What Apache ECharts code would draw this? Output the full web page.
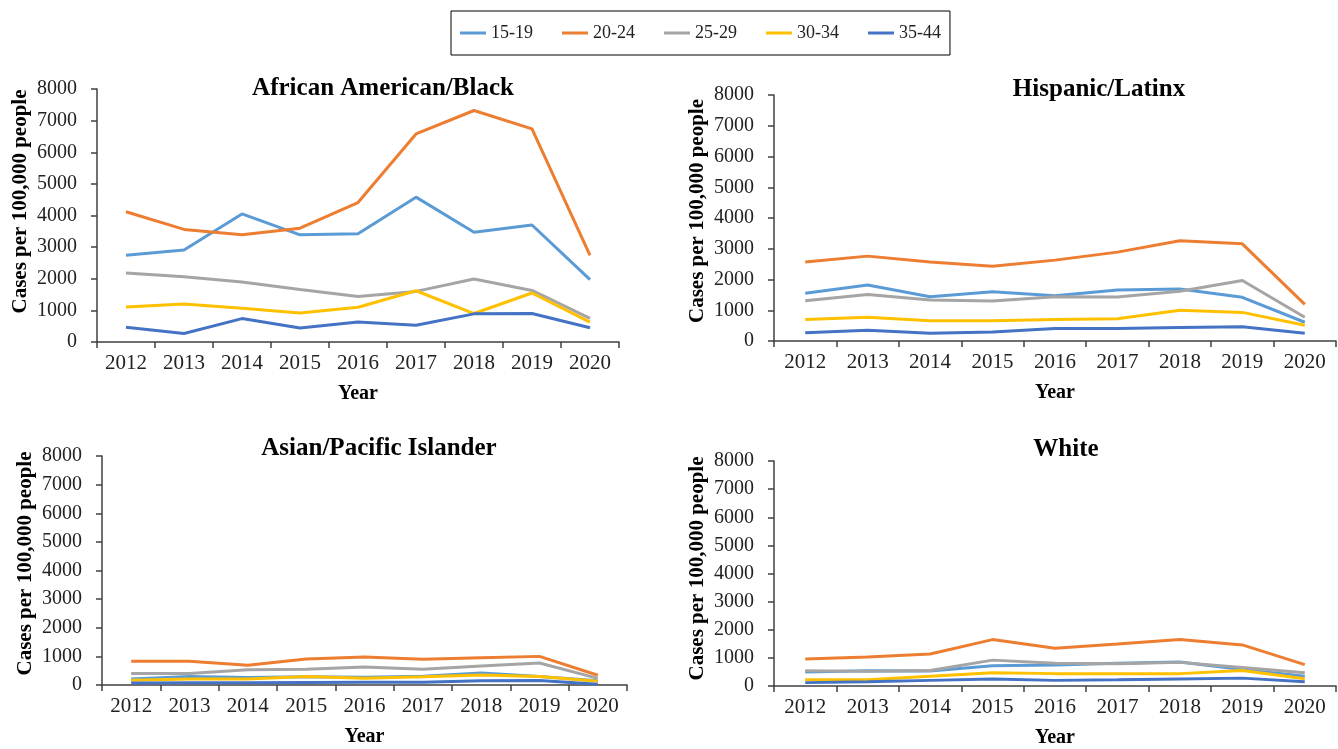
<!DOCTYPE html>
<html>
<head>
<meta charset="utf-8">
<script src="https://cdn.jsdelivr.net/npm/echarts@6/dist/echarts.min.js"></script>
<style>
  html, body { margin: 0; padding: 0; background: #fff; }
  #chart { width: 1338px; height: 749px; }
</style>
</head>
<body>
<div id="chart"></div>
<script>
// categories
var years = ["2012", "2013", "2014", "2015", "2016", "2017", "2018", "2019", "2020"];
var ageGroups = ["15-19", "20-24", "25-29", "30-34", "35-44"];
var panelTitles = ["African American/Black", "Hispanic/Latinx", "Asian/Pacific Islander", "White"];

// African American/Black
var black15 = [2740, 2910, 4050, 3390, 3420, 4580, 3470, 3700, 1970];
var black20 = [4120, 3560, 3390, 3600, 4410, 6580, 7320, 6740, 2740];
var black25 = [2180, 2060, 1900, 1660, 1440, 1600, 1990, 1630, 750];
var black30 = [1110, 1200, 1070, 920, 1100, 1620, 900, 1550, 630];
var black35 = [470, 270, 740, 440, 630, 530, 890, 900, 450];

// Hispanic/Latinx
var hisp15 = [1550, 1820, 1440, 1600, 1470, 1660, 1690, 1420, 610];
var hisp20 = [2570, 2760, 2570, 2430, 2630, 2890, 3260, 3160, 1190];
var hisp25 = [1310, 1510, 1330, 1300, 1440, 1430, 1620, 1970, 770];
var hisp30 = [700, 770, 660, 660, 700, 720, 1000, 930, 510];
var hisp35 = [270, 350, 250, 290, 410, 410, 440, 460, 250];

// Asian/Pacific Islander
var asian15 = [210, 300, 260, 290, 270, 310, 420, 300, 150];
var asian20 = [830, 830, 690, 910, 980, 900, 950, 1000, 340];
var asian25 = [400, 400, 530, 550, 630, 550, 660, 770, 230];
var asian30 = [170, 210, 210, 300, 240, 290, 350, 300, 130];
var asian35 = [70, 80, 80, 90, 100, 100, 150, 160, 30];

// White
var white15 = [500, 540, 530, 720, 750, 810, 850, 590, 350];
var white20 = [960, 1030, 1140, 1650, 1340, 1490, 1650, 1460, 760];
var white25 = [540, 520, 550, 920, 810, 790, 840, 660, 470];
var white30 = [220, 220, 350, 470, 440, 440, 440, 550, 260];
var white35 = [120, 150, 200, 250, 200, 220, 250, 280, 150];

var yTicks = [0, 1000, 2000, 3000, 4000, 5000, 6000, 7000, 8000];

var colors = ["#5B9BD5", "#ED7D31", "#A5A5A5", "#FFC000", "#4472C4"];
var panelData = [
  [black15, black20, black25, black30, black35],
  [hisp15, hisp20, hisp25, hisp30, hisp35],
  [asian15, asian20, asian25, asian30, asian35],
  [white15, white20, white25, white30, white35]
];

var serif = "'Liberation Serif', 'Times New Roman', serif";
var axisColor = "#404040";

var grids = [
  { left: 97, top: 89, width: 522, height: 253 },
  { left: 774, top: 95, width: 562, height: 246 },
  { left: 102, top: 456, width: 525, height: 229 },
  { left: 774, top: 461, width: 562, height: 226 }
];
var titlePos = [
  { left: 378, top: 71 },
  { left: 1094, top: 72 },
  { left: 374, top: 431 },
  { left: 1061, top: 432 }
];
// nudge of the rotated y-axis name upward (px)
var nameShift = [28, 14, 14, 10];

var chartDom = document.getElementById("chart");
var myChart = echarts.init(chartDom);
var option;

var xAxes = [], yAxes = [], series = [], titles = [];
grids.forEach(function (g, i) {
  titles.push({
    text: panelTitles[i],
    left: titlePos[i].left,
    top: titlePos[i].top,
    textAlign: "center",
    textStyle: { fontFamily: serif, fontWeight: "bold", fontSize: 25, color: "#000" }
  });
  xAxes.push({
    type: "category",
    gridIndex: i,
    data: years,
    boundaryGap: true,
    name: "Year",
    nameLocation: "middle",
    nameGap: 42,
    nameTextStyle: { fontFamily: serif, fontWeight: "bold", fontSize: 20, color: "#000" },
    axisLine: { lineStyle: { color: axisColor, width: 1.5 } },
    axisTick: { show: true, length: 6, lineStyle: { color: axisColor, width: 1.5 } },
    axisLabel: { fontFamily: serif, fontSize: 21, color: "#222", margin: 11 },
    splitLine: { show: false }
  });
  yAxes.push({
    type: "value",
    gridIndex: i,
    min: yTicks[0],
    max: yTicks[yTicks.length - 1],
    interval: yTicks[1] - yTicks[0],
    name: "Cases per 100,000 people",
    nameLocation: "middle",
    nameRotate: 90,
    nameGap: 66,
    nameTextStyle: {
      fontFamily: serif, fontWeight: "bold", fontSize: 21, color: "#000",
      padding: [0, 0, 0, nameShift[i]]
    },
    axisLine: { show: true, lineStyle: { color: axisColor, width: 1.5 } },
    axisTick: { show: true, length: 6, lineStyle: { color: axisColor, width: 1.5 } },
    axisLabel: {
      fontFamily: serif, fontSize: 20, color: "#222", margin: 20,
      formatter: function (v) { return String(v); }
    },
    splitLine: { show: false }
  });
  panelData[i].forEach(function (vals, k) {
    series.push({
      name: ageGroups[k],
      type: "line",
      xAxisIndex: i,
      yAxisIndex: i,
      data: vals,
      symbol: "none",
      lineStyle: { color: colors[k], width: 3 },
      itemStyle: { color: colors[k] },
      animation: false
    });
  });
});

option = {
  backgroundColor: "#fff",
  animation: false,
  title: titles,
  legend: {
    data: ageGroups,
    left: 451,
    top: 11,
    icon: "rect",
    itemWidth: 26,
    itemHeight: 3,
    itemGap: 29,
    padding: [13, 9],
    borderColor: "#000",
    borderWidth: 1,
    textStyle: { fontFamily: serif, fontSize: 18, color: "#222" }
  },
  grid: grids,
  xAxis: xAxes,
  yAxis: yAxes,
  series: series
};

option && myChart.setOption(option);
</script>
</body>
</html>
